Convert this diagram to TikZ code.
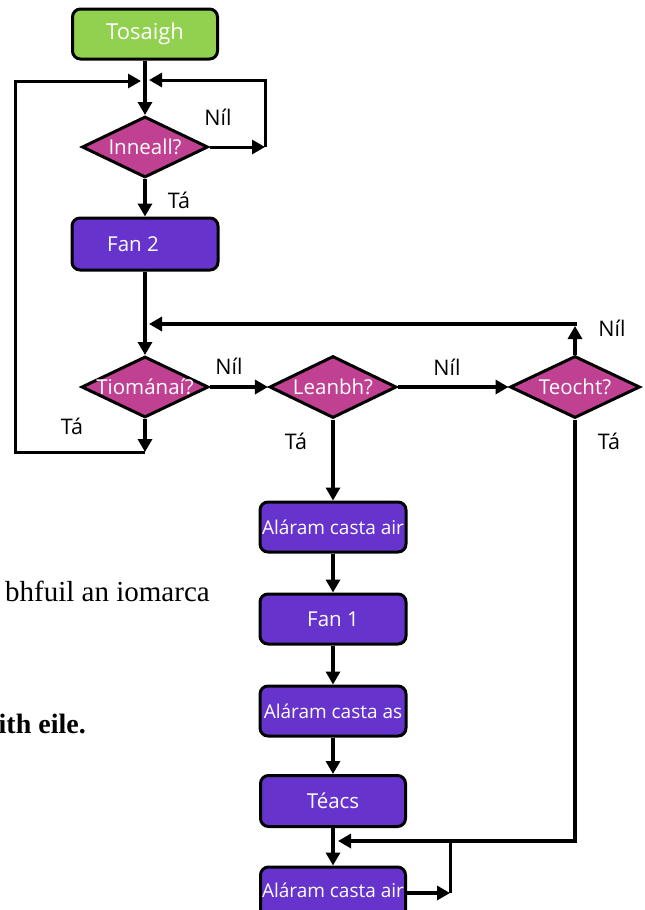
\documentclass[tikz,border=0pt]{standalone}
\usepackage{fontspec}
\setmainfont{Open Sans}
\newfontfamily\serifpart{Liberation Serif}
\usetikzlibrary{shapes.geometric,arrows.meta}
\definecolor{startgreen}{RGB}{146,208,80}
\definecolor{boxpurple}{RGB}{102,51,204}
\definecolor{diamag}{RGB}{192,64,145}
\tikzset{
  startbox/.style={draw=black, line width=3pt, rounded corners=8pt, fill=startgreen, text=white,
    minimum width=145pt, minimum height=50pt, inner sep=0pt, font=\fontsize{22}{22}\selectfont},
  procbox/.style={draw=black, line width=3pt, rounded corners=8pt, fill=boxpurple, text=white,
    minimum width=146pt, minimum height=50pt, inner sep=0pt, font=\fontsize{19}{19}\selectfont},
  bigtext/.style={font=\fontsize{20.5}{20.5}\selectfont},
  decision/.style={draw=black, line width=3pt, diamond, fill=diamag, minimum width=126pt,
    minimum height=61pt, inner sep=0pt},
  dtext/.style={text=white, font=\fontsize{20.5}{20.5}\selectfont, inner sep=0pt},
  arr/.style={line width=4.5pt, -{Triangle[length=13pt,width=14pt]}},
  thinarr/.style={line width=3pt, -{Triangle[length=13pt,width=14pt]}},
  thinline/.style={line width=3pt},
  lbl/.style={font=\fontsize{21.5}{21.5}\selectfont, inner sep=0pt},
  bodytext/.style={font=\serifpart\fontsize{29}{29}\selectfont, inner sep=0pt},
}
\begin{document}
\begin{tikzpicture}[x=1pt,y=-1pt]
\useasboundingbox (0,0) rectangle (645,910);
\clip (0,0) rectangle (645,910);

% side text fragments
\node[bodytext, anchor=base west] (t1) at (5,601) {bhfuil an iomarca};
\node[bodytext, anchor=base east, font=\serifpart\bfseries\fontsize{28}{28}\selectfont] (t2) at (86,733) {ith eile.};

% nodes
\node[startbox] (tos) at (145,34) {Tosaigh};
\node[decision, label={[dtext]center:Inneall?}] (inn) at (145,147) {};
\node[procbox, bigtext, minimum height=52pt] (fan2) at (145,244) {\hspace*{-24pt}Fan 2};
\node[decision, minimum width=127pt, label={[dtext]center:Tiománaí?}] (tio) at (145,387) {};
\node[decision, minimum width=127pt, minimum height=62pt, label={[dtext]center:Leanbh?}] (lea) at (333,387) {};
\node[decision, minimum width=130pt, minimum height=62pt, label={[dtext]center:Teocht?}] (teo) at (575,387) {};
\node[procbox] (al1) at (333,527) {Aláram casta air};
\node[procbox, bigtext] (fan1) at (333,619) {Fan 1};
\node[procbox] (alas) at (333,711) {Aláram casta as};
\node[procbox, bigtext, minimum width=145pt, minimum height=51pt] (teacs) at (333,801) {Téacs};
\node[procbox, minimum width=145pt, minimum height=54pt] (al2) at (333,894) {\raisebox{8pt}{Aláram casta air}};

% junction coordinates
\coordinate (jl) at (141,81);
\coordinate (jr) at (149,80);
\coordinate (rl) at (265,147);
\coordinate (rt) at (265,80);
\coordinate (lb) at (145,452);
\coordinate (lbl) at (15,452);
\coordinate (ltl) at (15,81);
\coordinate (tn) at (575,326);
\coordinate (tnl) at (149,324);
\coordinate (tb) at (575,841);
\coordinate (tbl) at (338,841);
\coordinate (ar) at (450,893);
\coordinate (art) at (450,841);

% connectors
\draw[arr] (tos) -- (inn);
\draw[thinarr] (inn.east) -- (rl);
\draw[thinarr] (rl) -- (rt) -- (jr);
\draw[thinarr] (lb) -- (lbl) -- (ltl) -- (jl);
\draw[arr] (inn) -- (fan2);
\draw[arr] (fan2) -- (tio);
\draw[arr] (tio) -- (lb);
\draw[arr] (tio) -- (lea);
\draw[arr] (lea) -- (teo);
\draw[arr] (teo) -- (tn);
\draw[arr, line width=4pt] (tn) -- (575,324) -- (tnl);
\draw[arr] (lea) -- (al1);
\draw[arr] (al1) -- (fan1);
\draw[arr] (fan1) -- (alas);
\draw[arr] (alas) -- (teacs);
\draw[arr] (teacs) -- (al2);
\draw[arr, line width=3.5pt] (teo.south) -- (tb) -- (tbl);
\draw[thinarr, line width=4pt] (al2.east |- ar) -- (ar);
\draw[thinline] (ar) -- (art);

% labels
\node[lbl] (n1) at (218,117) {Níl};
\node[lbl] (y1) at (179,200) {Tá};
\node[lbl] (n2) at (229,366) {Níl};
\node[lbl] (n3) at (447,367) {Níl};
\node[lbl] (n4) at (612,328) {Níl};
\node[lbl] (y2) at (72,426) {Tá};
\node[lbl] (y3) at (296,441) {Tá};
\node[lbl] (y4) at (609,441) {Tá};
\end{tikzpicture}
\end{document}
